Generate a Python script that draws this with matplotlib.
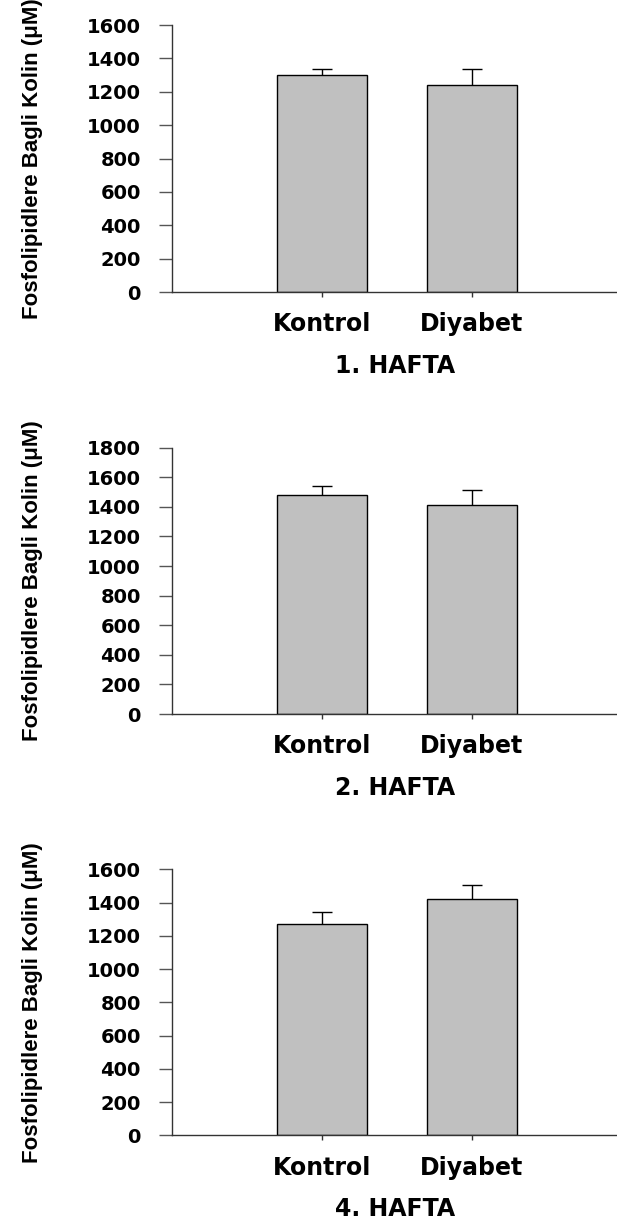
import matplotlib
matplotlib.use('Agg')
import matplotlib.pyplot as plt
import numpy as np

# values
groups = ['Kontrol', 'Diyabet']
weeks = ['1. HAFTA', '2. HAFTA', '4. HAFTA']
kontrol = [1302, 1480, 1269]
kontrol_err = [36, 63, 72]
diyabet = [1242, 1412, 1424]
diyabet_err = [96, 102, 80]
ymax = [1600, 1800, 1600]
ylabel = 'Fosfolipidlere Bagli Kolin (μM)'

# axes boxes (fig fraction): left, bottom, width, height
boxes = [[0.279, 0.761, 0.721, 0.2185],
         [0.279, 0.4157, 0.721, 0.2179],
         [0.279, 0.0709, 0.721, 0.2177]]

fig = plt.figure(figsize=(6.17, 12.22), dpi=100)

x = np.array([1, 2])
for i in range(3):
    ax = fig.add_axes(boxes[i])
    means = [kontrol[i], diyabet[i]]
    errs = [kontrol_err[i], diyabet_err[i]]
    ax.errorbar(x, means, yerr=[errs, errs], fmt='none', ecolor='black',
                elinewidth=1, capsize=7, capthick=1, zorder=1)
    ax.bar(x, means, width=0.6, color='#c0c0c0', edgecolor='black',
           linewidth=1, zorder=2)

    ax.set_xlim(0, 2.97)
    ax.set_ylim(0, ymax[i])
    ax.set_yticks(np.arange(0, ymax[i] + 1, 200))
    ax.set_xticks(x)
    ax.set_xticklabels(groups)

    for s in ['top', 'right']:
        ax.spines[s].set_visible(False)
    for s in ['left', 'bottom']:
        ax.spines[s].set_color('#333333')
        ax.spines[s].set_linewidth(1)

    ax.tick_params(axis='y', length=9.5, width=1, color='#555555', pad=13,
                   labelsize=14)
    ax.tick_params(axis='x', length=3.6, width=1, color='#333333', pad=11,
                   labelsize=17)
    for lab in ax.get_yticklabels() + ax.get_xticklabels():
        lab.set_fontweight('bold')
        lab.set_fontfamily('DejaVu Sans')

    ax.set_xlabel(weeks[i], fontsize=17, fontweight='bold', family='DejaVu Sans')
    ax.xaxis.set_label_coords(0.5, -0.232)
    ax.set_ylabel(ylabel, fontsize=16, fontweight='bold',
                  family=['Liberation Sans', 'DejaVu Sans'])
    ax.yaxis.set_label_coords(-0.29, 0.5)

fig.savefig('out.png', dpi=100)
